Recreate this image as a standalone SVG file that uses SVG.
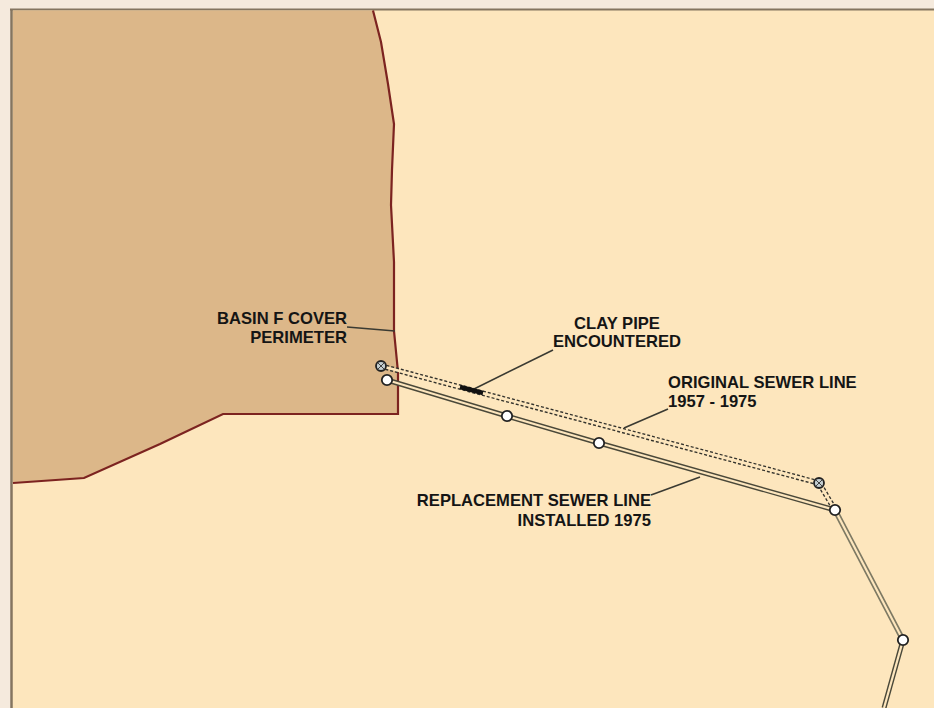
<svg xmlns="http://www.w3.org/2000/svg" width="934" height="708" viewBox="0 0 934 708">
<style>
.t{font-family:"Liberation Sans",Arial,sans-serif;font-size:16.6px;font-weight:bold;fill:#151515}
.e{text-anchor:end}.m{text-anchor:middle}
.lead{fill:none;stroke:#3a3a32;stroke-width:1.6}
.pipeO{fill:none;stroke:#4a4839;stroke-width:5}
.pipeL{fill:none;stroke:#7d7963;stroke-width:5.5}
.pipeI{fill:none;stroke:#fde6bd;stroke-width:2.2}
.d1{fill:none;stroke:#33322c;stroke-width:5.500;stroke-dasharray:3 2}
.d2{fill:none;stroke:#fde6bd;stroke-width:2.8}
.mh{fill:#fff;stroke:#222;stroke-width:1.8}
.old{fill:#c3cdd0;stroke:#222;stroke-width:1.8}
.x{stroke:#333;stroke-width:.9}
</style>
<rect width="934" height="708" fill="#f5eadd"/>
<rect x="11" y="9" width="923" height="699" fill="#fde6bd"/>
<path d="M10 9.500H934" stroke="#847560" stroke-width="2" fill="none"/>
<path d="M11.500 9V708" stroke="#847560" stroke-width="2.500" fill="none"/>
<g id="basin-f"><path d="M13 10.500H373L381 42L388 84L394 124L392 170L391 205L394 262L394 331L398 372V414H223L160 444L84 478L13 483Z" fill="#dcb789" stroke="none"/>
<path d="M373 10.500L381 42L388 84L394 124L392 170L391 205L394 262L394 331L398 372V414H223L160 444L84 478L13 483" fill="none" stroke="#7c2320" stroke-width="2.200"/></g>
<g id="connectors">
<path class="lead" d="M347 327L395 331"/>
<path class="lead" d="M474 389L553 350"/>
<path class="lead" d="M624 428L668 409"/>
<path class="lead" d="M651 495L700 477"/>
<path class="d1" d="M381 366L819 483L835 510"/><path class="d2" d="M381 366L819 483L835 510"/>
<path class="pipeO" d="M387 380L507 416L599 443L835 510"/>
<path class="pipeL" d="M835 510L903 640"/>
<path class="pipeO" d="M903 640L884 708"/>
<path class="pipeI" d="M387 380L507 416L599 443L835 510L903 640L884 708"/>
<path d="M460 387L483 393" stroke="#111" stroke-width="4.500" fill="none"/>
</g>
<g id="mh-old-1"><circle class="old" cx="381" cy="366" r="5"/><path class="x" d="M378 363L384 369M384 363L378 369"/></g>
<g id="mh-old-2"><circle class="old" cx="819" cy="483" r="5"/><path class="x" d="M816 480L822 486M822 480L816 486"/></g>
<g id="mh-1"><circle class="mh" cx="387" cy="380" r="5.200"/></g>
<g id="mh-2"><circle class="mh" cx="507" cy="416" r="5.200"/></g>
<g id="mh-3"><circle class="mh" cx="599" cy="443" r="5.200"/></g>
<g id="mh-4"><circle class="mh" cx="835" cy="510" r="5.200"/></g>
<g id="mh-5"><circle class="mh" cx="903" cy="640" r="5.200"/></g>
<g id="label-basin"><text class="t e" x="347" y="324">BASIN F COVER</text><text class="t e" x="347" y="343">PERIMETER</text></g>
<g id="label-clay"><text class="t m" x="617" y="329">CLAY PIPE</text><text class="t m" x="617" y="347">ENCOUNTERED</text></g>
<g id="label-original"><text class="t" x="668" y="388">ORIGINAL SEWER LINE</text><text class="t" x="668" y="407">1957 - 1975</text></g>
<g id="label-replacement"><text class="t e" x="651" y="506">REPLACEMENT SEWER LINE</text><text class="t e" x="651" y="526">INSTALLED 1975</text></g>
</svg>
